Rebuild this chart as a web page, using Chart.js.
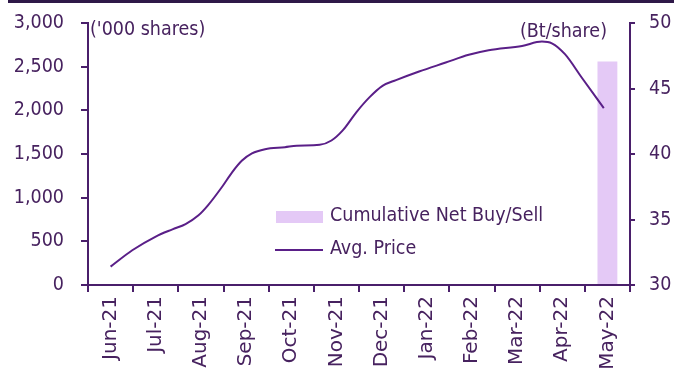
<!DOCTYPE html>
<html>
<head>
<meta charset="utf-8">
<script src="https://cdn.jsdelivr.net/npm/chart.js@4.4.1/dist/chart.umd.min.js"></script>
<style>
  html, body { margin: 0; padding: 0; background: #ffffff; }
  #wrap { position: relative; width: 674px; height: 381px; }
</style>
</head>
<body>
<div id="wrap"><canvas id="c" width="674" height="381"></canvas></div>
<script>
// Month categories on the x axis
const months = ['Jun-21', 'Jul-21', 'Aug-21', 'Sep-21', 'Oct-21', 'Nov-21',
                'Dec-21', 'Jan-22', 'Feb-22', 'Mar-22', 'Apr-22', 'May-22'];

// Cumulative net buy/sell ('000 shares), left axis
const netBuySell = [null, null, null, null, null, null, null, null, null, null, null, 2560];

// Average price (Bt/share), right axis; position given as month index (0 = Jun-21)
const priceMonth = [0, 0.48, 1.0, 1.37, 1.66, 1.94, 2.16, 2.47, 2.69, 2.91, 3.13, 3.42,
                    3.86, 4.12, 4.63, 4.89, 5.14, 5.44, 5.73, 6.02, 6.32, 6.83, 7.42,
                    7.93, 8.37, 9.11, 9.55, 9.77, 10.06, 10.43, 10.92];
const avgPrice   = [31.4, 32.65, 33.7, 34.25, 34.65, 35.3, 36.1, 37.5, 38.6, 39.5, 40.05, 40.37,
                    40.52, 40.63, 40.7, 41.03, 41.8, 43.18, 44.32, 45.2, 45.64, 46.3, 46.98,
                    47.57, 47.92, 48.25, 48.58, 48.45, 47.62, 45.84, 43.5];

// Axis ranges
const leftTicks  = { min: 0, max: 3000, step: 500 };
const rightTicks = { min: 30, max: 50, step: 5 };

const TEXT = '#47225f';
const AXIS = '#4a1f6b';
const LINE = '#5a1f88';
const BAR  = '#e4c9f6';
const FONT = "'DejaVu Sans Condensed', 'Noto Sans', sans-serif";
const FS = 19.5;
const XFONT = "'DejaVu Sans', sans-serif";
const XFS = 20;

const pricePoints = priceMonth.map((m, i) => ({ x: m, y: avgPrice[i] }));

// Unit captions, legend and header rule drawn onto the canvas
const decorations = {
  id: 'decorations',
  afterDraw(chart) {
    const ctx = chart.ctx;
    const area = chart.chartArea;
    ctx.save();
    // header rule
    ctx.fillStyle = '#2e1848';
    ctx.fillRect(8, 0, 666, 3);

    ctx.font = FS + 'px ' + FONT;
    ctx.fillStyle = TEXT;
    ctx.textBaseline = 'middle';
    ctx.textAlign = 'left';
    ctx.fillText("('000 shares)", area.left + 2, 30);
    ctx.textAlign = 'right';
    ctx.fillText('(Bt/share)', 607, 32);

    // legend
    ctx.textAlign = 'left';
    ctx.fillStyle = BAR;
    ctx.fillRect(276, 211, 47, 12);
    ctx.fillStyle = TEXT;
    ctx.fillText(chart.data.datasets[0].label, 330, 216);
    ctx.strokeStyle = LINE;
    ctx.lineWidth = 2;
    ctx.beginPath();
    ctx.moveTo(275, 250);
    ctx.lineTo(323, 250);
    ctx.stroke();
    ctx.fillText(chart.data.datasets[1].label, 330, 249);
    ctx.restore();
  }
};

new Chart(document.getElementById('c'), {
  type: 'bar',
  data: {
    labels: months,
    datasets: [
      {
        label: 'Cumulative Net Buy/Sell',
        data: netBuySell,
        backgroundColor: BAR,
        borderWidth: 0,
        grouped: false,
        categoryPercentage: 1,
        barPercentage: 0.44,
        xAxisID: 'x',
        yAxisID: 'y',
        order: 2
      },
      {
        type: 'line',
        label: 'Avg. Price',
        data: pricePoints,
        borderColor: LINE,
        borderWidth: 2,
        pointRadius: 0,
        cubicInterpolationMode: 'monotone',
        fill: false,
        xAxisID: 'xl',
        yAxisID: 'y2',
        order: 1
      }
    ]
  },
  options: {
    responsive: false,
    animation: false,
    layout: { padding: { top: 23, left: 0, right: 0, bottom: 0 } },
    plugins: {
      legend: { display: false },
      tooltip: { enabled: false }
    },
    scales: {
      x: {
        type: 'category',
        offset: true,
        grid: {
          offset: true,
          drawOnChartArea: false,
          drawTicks: true,
          tickLength: 7,
          tickColor: AXIS,
          lineWidth: 2
        },
        border: { display: true, color: AXIS, width: 2 },
        ticks: {
          color: TEXT,
          font: { family: XFONT, size: XFS },
          minRotation: 90,
          maxRotation: 90,
          padding: 4,
          autoSkip: false
        },
        afterFit(s) { s.height = 96; }
      },
      xl: {
        type: 'linear',
        display: false,
        offset: false,
        grid: { offset: false },
        min: -0.5,
        max: 11.5
      },
      y: {
        position: 'left',
        min: leftTicks.min,
        max: leftTicks.max,
        grid: {
          drawOnChartArea: false,
          tickLength: 7,
          tickColor: AXIS,
          lineWidth: 2
        },
        border: { display: true, color: AXIS, width: 2 },
        ticks: {
          stepSize: leftTicks.step,
          color: TEXT,
          font: { family: FONT, size: FS, lineHeight: 0.4 },
          padding: 17,
          callback: v => v.toLocaleString('en-US')
        },
        afterFit(s) { s.width = 88; }
      },
      y2: {
        position: 'right',
        min: rightTicks.min,
        max: rightTicks.max,
        grid: {
          drawOnChartArea: false,
          tickLength: 5,
          tickColor: AXIS,
          lineWidth: 2
        },
        border: { display: true, color: AXIS, width: 2 },
        ticks: {
          stepSize: rightTicks.step,
          color: TEXT,
          font: { family: FONT, size: FS, lineHeight: 0.4 },
          padding: 14
        },
        afterFit(s) { s.width = 44; }
      }
    }
  },
  plugins: [decorations]
});
</script>
</body>
</html>
